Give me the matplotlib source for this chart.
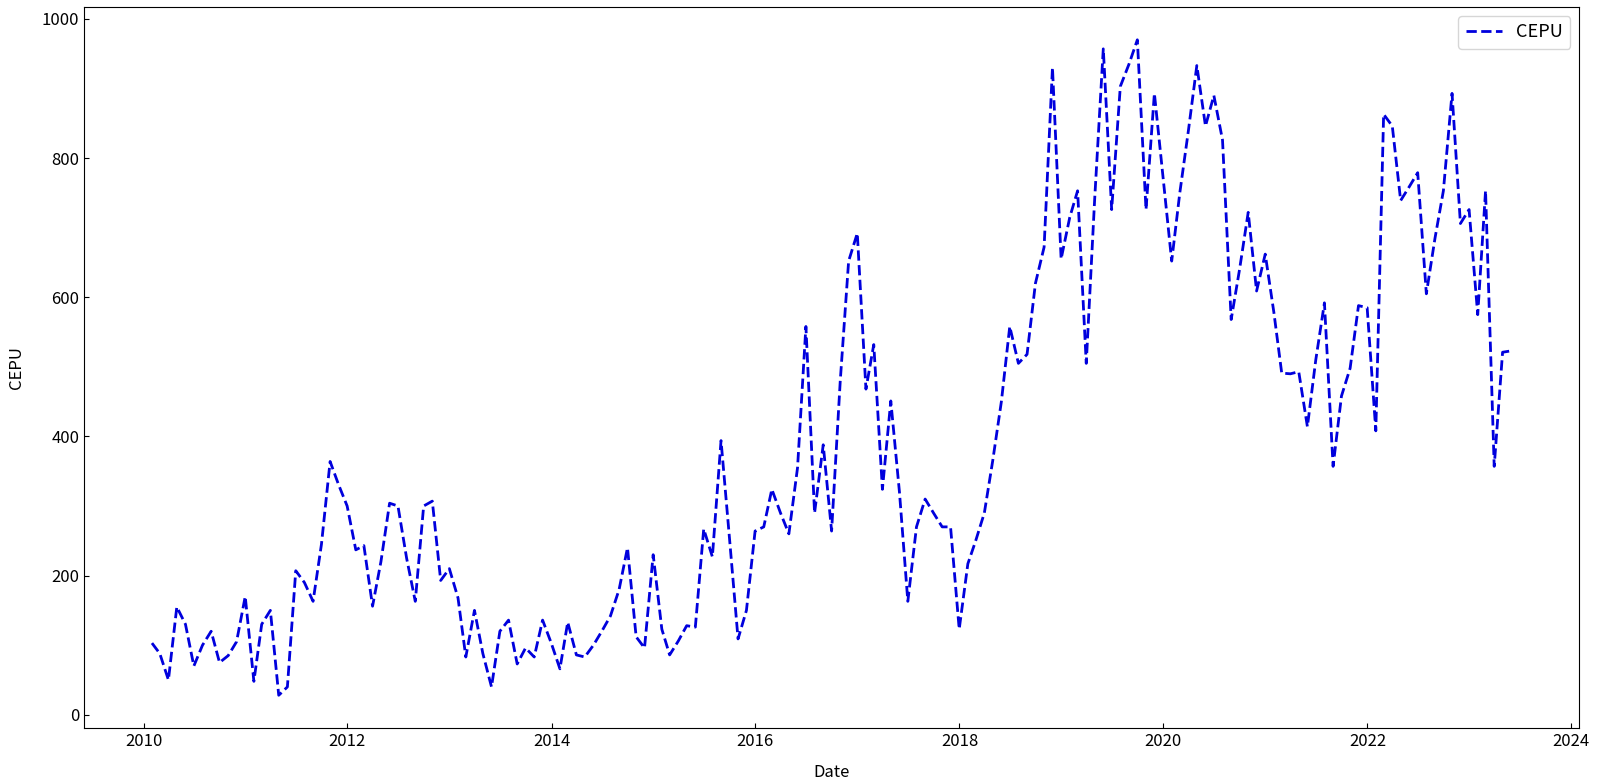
import numpy as np
import pandas as pd
import matplotlib
matplotlib.use('Agg')
import matplotlib.pyplot as plt

plt.rcParams['font.family'] = ['Noto Sans CJK SC', 'DejaVu Sans']
plt.rcParams['font.size'] = 12

# monthly index, Jan 2010 .. May 2023 (month ends)
start = '2010-01-31'
cepu = [
	103, 88, 50, 155, 130, 70, 100, 120, 75, 85, 105, 170,
	48, 130, 150, 28, 40, 207, 190, 163, 245, 364, 331, 300,
	237, 243, 156, 220, 304, 300, 225, 163, 300, 307, 193, 210,
	168, 83, 150, 88, 40, 120, 136, 73, 96, 83, 136, 103,
	66, 133, 86, 83, 100, 120, 142, 180, 240, 112, 96, 230,
	123, 86, 106, 128, 126, 267, 227, 394, 255, 109, 150, 264,
	270, 324, 290, 260, 355, 558, 290, 388, 264, 480, 652, 692,
	468, 532, 324, 451, 320, 163, 270, 310, 290, 270, 270, 123,
	217, 250, 290, 365, 450, 558, 505, 518, 620, 672, 930, 655,
	715, 753, 505, 740, 957, 726, 903, 935, 970, 726, 893, 773,
	652, 750, 840, 933, 846, 890, 826, 568, 640, 722, 609, 662,
	578, 491, 490, 493, 414, 510, 592, 357, 458, 498, 588, 585,
	408, 863, 846, 739, 759, 779, 605, 685, 753, 893, 706, 726,
	575, 753, 357, 521, 523,
]
dates = pd.date_range(start, periods=len(cepu), freq='ME')

fig = plt.figure(figsize=(16, 7.82), dpi=100)
ax = fig.add_axes([0.0525, 0.069, 0.9345, 0.922])

ax.plot(dates, cepu, linestyle='--', color='#0000dd', linewidth=2, label='CEPU')

ax.set_xlabel('Date', labelpad=10)
ax.set_ylabel('CEPU', labelpad=12)
ax.tick_params(direction='in')
ax.legend(loc='upper right', fontsize=13)

fig.savefig('out.png', dpi=100)
